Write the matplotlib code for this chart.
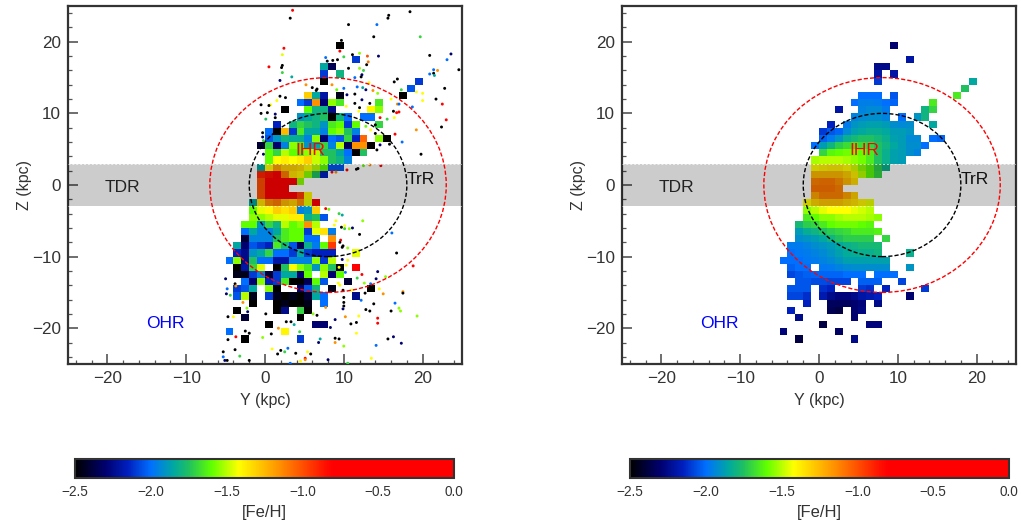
import numpy as np
import matplotlib
matplotlib.use('Agg')
import matplotlib.pyplot as plt
from matplotlib.colors import LinearSegmentedColormap, Normalize
from matplotlib.cm import ScalarMappable
from matplotlib.patches import Circle
from matplotlib.ticker import MultipleLocator

plt.rcParams['font.family'] = ['Liberation Sans', 'DejaVu Sans']

bin_edges = list(range(-25, 26))
feh_min, feh_max = -2.5, 0.0
cmap_stops = [(-2.5, '#000000'), (-2.3, '#000070'), (-2.15, '#0020c0'), (-2.0, '#0070ff'),
              (-1.85, '#00a8a0'), (-1.75, '#20c060'), (-1.6, '#60ff00'), (-1.42, '#ffff00'),
              (-1.15, '#ff9000'), (-0.85, '#ff1000'), (-0.8, '#ff0000'), (0.0, '#ff0000')]

# (Z bin lower edge, Y bin lower edge, [Fe/H] values going to larger Y)
left_rows = [
    (19, 9, [-2.5]), (17, 11, [-2.1]), (16, 7, [-1.85, -2.35]), (15, 7, [-2.1]), (15, 9, [-1.8]),
    (14, 7, [-2.5]), (14, 19, [-2.1]), (13, 18, [-2.05]),
    (12, 5, [-1.3, -1.85, -2.2]), (12, 9, [-2.45]), (12, 17, [-2.5]),
    (11, 4, [-2.0, -2.1, -1.15, -2.3, -1.55, -1.65]), (11, 14, [-1.65]),
    (10, 2, [-2.5]), (10, 5, [-1.6, -1.8, -1.8, -2.25]), (10, 13, [-1.4, -1.55]),
    (9, 4, [-1.9, -1.85, -1.8, -1.75, -2.5, -1.8, -2.0]), (9, 12, [-2.0, -2.0]),
    (8, 1, [-2.15]), (8, 3, [-1.8, -1.7, -1.75, -1.8, -1.9, -1.65, -1.6, -2.1, -1.6]), (8, 14, [-1.7]),
    (7, 0, [-2.0, -2.5, -1.25, -2.1, -1.65, -1.85, -1.85, -1.95, -1.6, -1.55, -1.75, -1.95]),
    (6, 0, [-2.05, -1.9, -1.8, -1.83, -1.83, -1.95, -1.55, -2.3, -2.0, -2.05, -1.7, -2.15, -1.05]),
    (6, 14, [-1.55, -2.5]),
    (5, -1, [-2.4, -1.7, -2.3, -1.95, -1.55, -1.65, -1.9, -1.85, -1.7, -1.95, -1.5, -2.35, -1.15, -1.15, -2.5]),
    (4, 0, [-1.6, -1.7, -1.5, -1.6, -1.65, -1.55, -1.5, -1.75, -1.75, -1.85, -2.0, -2.5, -1.75]),
    (3, 0, [-1.6, -1.42, -1.38, -1.42, -1.38, -1.3, -1.48, -1.55, -1.75, -1.8, -1.95]),
    (2, -1, [-1.85, -1.42, -1.2, -1.3, -1.3, -1.33, -1.42, -1.5, -1.6, -2.05, -2.05]),
    (1, -1, [-0.9, -0.85, -0.75, -1.1, -1.35, -1.4, -1.55, -1.75, -2.15]),
    (0, -1, [-1.0, -0.7, -0.7, -0.7, -0.7, -1.55]),
    (-1, -1, [-1.0, -0.7, -0.7, -0.7]),
    (-2, -1, [-1.0, -0.75, -0.75, -0.75, -0.75, -0.95, -1.4]),
    (-3, -2, [-1.85, -1.35, -1.15, -1.1, -1.25, -1.3, -1.15, -1.45, -0.7]),
    (-4, -2, [-1.6, -1.45, -1.4, -1.3, -1.35, -1.3, -1.95, -1.9, -1.3]),
    (-5, -2, [-1.55, -1.55, -1.5, -1.45, -1.45, -1.38, -1.38, -1.82, -1.75, -2.05]),
    (-6, -3, [-1.6, -1.6, -1.9, -1.7, -1.8, -1.5, -1.6, -1.55, -1.15, -1.5]),
    (-7, -3, [-2.0, -1.85, -1.95, -1.95, -1.85, -1.65, -1.6, -1.6, -2.1, -1.45, -1.35, -1.97]),
    (-8, -3, [-2.4, -1.95, -1.95, -1.95, -1.75, -1.65, -1.6, -1.6, -2.0, -2.0]), (-8, 8, [-1.15]),
    (-9, -4, [-1.85, -2.3, -2.05, -2.1, -2.15, -1.65, -1.78, -2.05, -2.35, -1.82, -1.97, -1.6, -0.95]),
    (-10, -4, [-2.15, -2.25, -1.9, -1.85, -1.7, -2.0, -2.0, -2.1, -1.85, -2.1, -2.15, -2.15, -2.15]), (-10, 11, [-1.45]),
    (-11, -5, [-2.0, -1.55, -2.25, -1.75, -2.0, -2.0, -2.2, -2.2, -1.95, -1.95, -1.95, -1.55, -2.1, -1.5]),
    (-12, -4, [-2.5, -2.2, -1.7, -1.45]), (-12, 1, [-2.5, -1.75, -1.42, -1.55, -1.65, -1.9, -1.55, -1.75, -2.5]), (-12, 11, [-0.7]),
    (-13, -4, [-2.45, -2.45, -2.1, -1.95, -2.4, -2.1, -1.85, -1.85, -2.3, -1.6]), (-13, 7, [-1.5, -2.3, -1.6]),
    (-14, -3, [-2.0, -2.3, -1.55, -2.15, -2.1, -1.65, -2.5, -2.5, -2.35, -1.6, -2.05]), (-14, 10, [-2.4]),
    (-15, -4, [-2.1, -2.05, -1.85]), (-15, 0, [-1.55, -2.5]), (-15, 4, [-2.3, -2.05, -1.8]), (-15, 8, [-2.45]), (-15, 13, [-2.5]),
    (-16, -4, [-2.05, -1.5, -2.45]), (-16, 0, [-2.1, -2.45, -2.5, -2.45, -2.5, -2.4, -1.85, -2.0]), (-16, 11, [-2.25]),
    (-17, -2, [-2.5]), (-17, 1, [-2.5, -2.45, -2.5, -2.5, -2.45]), (-17, 7, [-2.0]),
    (-18, -4, [-2.5]), (-18, 1, [-2.5, -2.25]), (-18, 4, [-1.7, -2.5]),
    (-19, -3, [-2.4]), (-19, 4, [-2.5]),
    (-20, 0, [-2.5]), (-20, 6, [-2.3, -2.3]),
    (-21, -5, [-2.0]), (-21, 2, [-1.4]),
    (-22, -3, [-2.5]), (-22, 4, [-2.1]),
]

right_rows = [
    (19, 9, [-2.3]), (17, 11, [-2.2]), (16, 7, [-2.25, -2.25]), (15, 7, [-2.2]), (15, 9, [-2.2]),
    (14, 7, [-2.1]), (14, 19, [-1.85]), (13, 18, [-1.75]),
    (12, 5, [-2.0, -2.0, -2.0]), (12, 9, [-2.05]), (12, 17, [-1.65]),
    (11, 4, [-2.0, -1.96, -1.96, -1.97, -2.0, -2.02]), (11, 14, [-1.65]),
    (10, 2, [-2.2]), (10, 5, [-1.95, -1.93, -1.93, -1.97]), (10, 13, [-1.8, -1.7]),
    (9, 4, [-1.95, -1.93, -1.92, -1.92, -1.95]), (9, 10, [-2.0]), (9, 12, [-1.9, -1.8]),
    (8, 1, [-2.15]), (8, 3, [-1.97, -1.9, -1.88, -1.87, -1.87, -1.88, -1.92, -1.93, -1.92]), (8, 14, [-1.85]),
    (7, 0, [-2.1, -2.05, -2.02, -1.93, -1.87, -1.85, -1.83, -1.83, -1.85, -1.88, -1.88, -1.9]),
    (6, 0, [-2.03, -1.97, -1.9, -1.82, -1.78, -1.75, -1.75, -1.78, -1.82, -1.87, -1.88, -1.93, -1.93]), (6, 14, [-2.0, -2.02]),
    (5, -1, [-2.0, -1.88, -1.8, -1.72, -1.68, -1.66, -1.68, -1.7, -1.75, -1.8, -1.85, -1.88, -1.92, -1.92, -2.0]),
    (4, 0, [-1.7, -1.62, -1.6, -1.58, -1.58, -1.6, -1.65, -1.75, -1.82, -1.87, -1.88, -1.92, -1.95]),
    (3, -1, [-1.52, -1.5, -1.5, -1.5, -1.52, -1.55, -1.58, -1.65, -1.75, -1.82, -1.87, -1.88]),
    (2, -1, [-1.42, -1.4, -1.38, -1.38, -1.42, -1.47, -1.55, -1.62, -1.72, -1.82]),
    (1, -1, [-1.25, -1.25, -1.25, -1.25, -1.3, -1.38, -1.5, -1.62, -1.7]),
    (0, -1, [-1.12, -1.1, -1.1, -1.15, -1.25, -1.33]),
    (-1, -1, [-1.08, -1.08, -1.08, -1.12]),
    (-2, -1, [-1.2, -1.12, -1.12, -1.12, -1.2, -1.3]),
    (-3, -2, [-1.42, -1.32, -1.28, -1.28, -1.28, -1.32, -1.35, -1.4, -1.45]),
    (-4, -2, [-1.55, -1.5, -1.45, -1.42, -1.42, -1.42, -1.45, -1.47, -1.5]),
    (-5, -2, [-1.65, -1.6, -1.55, -1.55, -1.52, -1.5, -1.5, -1.5, -1.52, -1.55]),
    (-6, -3, [-1.78, -1.72, -1.7, -1.65, -1.6, -1.58, -1.58, -1.58, -1.6, -1.62]),
    (-7, -3, [-1.88, -1.83, -1.8, -1.75, -1.72, -1.7, -1.68, -1.65, -1.65, -1.65, -1.63]),
    (-8, -3, [-1.92, -1.9, -1.88, -1.85, -1.8, -1.75, -1.72, -1.72, -1.72, -1.72]), (-8, 8, [-1.7]),
    (-9, -4, [-1.97, -1.97, -1.95, -1.92, -1.9, -1.88, -1.85, -1.82, -1.8, -1.78, -1.78, -1.78]),
    (-10, -4, [-2.0, -1.98, -1.97, -1.95, -1.93, -1.9, -1.87, -1.84, -1.83, -1.82, -1.82, -1.8]), (-10, 11, [-1.82]),
    (-11, -5, [-2.0, -2.0, -2.0, -1.98, -1.97, -1.95, -1.93, -1.9, -1.87, -1.87, -1.87, -1.87, -1.87, -1.87]),
    (-12, -4, [-2.03, -2.0, -2.0]), (-12, 0, [-1.98, -1.97, -1.95, -1.93, -1.92, -1.92, -1.92, -1.92, -1.92]), (-12, 11, [-1.9]),
    (-13, -4, [-2.08, -2.05, -2.03, -2.02, -2.02, -2.02, -2.02, -2.0, -2.0, -2.0]), (-13, 7, [-2.0, -2.0, -2.0]),
    (-14, -3, [-2.05, -2.05, -2.07, -2.07, -2.08, -2.08, -2.08]), (-14, 5, [-2.03, -2.03, -2.03]), (-14, 10, [-2.08]),
    (-15, -4, [-2.05, -2.05, -2.05]), (-15, 0, [-2.12, -2.15]), (-15, 5, [-2.1, -2.12]), (-15, 8, [-2.15]), (-15, 13, [-2.1]),
    (-16, -4, [-2.08, -2.08, -2.12]), (-16, 0, [-2.18, -2.25, -2.28, -2.28, -2.25, -2.2, -2.18, -2.15]), (-16, 11, [-2.3]),
    (-17, -2, [-2.15]), (-17, 1, [-2.33, -2.33, -2.33, -2.3, -2.28]), (-17, 7, [-2.25]),
    (-18, -4, [-2.15]), (-18, 1, [-2.35, -2.38]), (-18, 4, [-2.3, -2.27]),
    (-19, -3, [-2.25]), (-19, 4, [-2.3]),
    (-20, 0, [-2.38]), (-20, 6, [-2.28, -2.28]),
    (-21, -5, [-2.28]), (-21, 2, [-2.32]),
    (-22, -3, [-2.38]), (-22, 4, [-2.25]),
]

# individual stars in the left panel (black = -2.5 etc.)
star_y = [3.5, 3.2, 15.7, 15.6, 18.4, 10.6, 14.2, 13.8, 19.7, 9.7, 2.4, 2.2, 9.5, 11.1, 12.0, 10.0, 13.0, 14.4, 7.7, 9.2, 7.9, 8.6, 12.9, 13.1,
          20.9, 23.6, 23.1, 24.6, 0.5, 2.2, 2.1, 2.2, 3.4, 1.9, 10.6, 12.0, 12.5, 12.3, 12.2, 11.4, 21.4, 21.4, 20.9, 21.5, 21.9, 16.4, 16.8,
          13.2, 5.2, 8.5, 11.7, 12.4, 12.8, 13.7, 14.3, 6.0, 6.6, 6.5, 9.1, 10.0, 11.4, 10.4, 17.3, 20.0, 19.2, 22.8, 1.9, 2.6, 1.5, 16.0, 20.0,
          21.7, 0.7, 0.5, -0.5, 12.3, 11.4, 13.3, 10.3, 16.8, 17.0, 18.7, 22.5, 12.0, -0.5, 0.3, 1.3, 11.9, 16.3, 16.7, 17.0, 0.1, 1.3, 14.6, 15.5,
          16.4, 23.0, 14.0, 13.4, 12.8, 19.2, 22.4, -0.3, -0.3, -0.2, 16.5, 14.0, 17.4, 15.8, 14.6, 14.2, -0.2, 19.8, 13.3, 12.5, 11.8, 11.6, 14.7,
          8.5, 9.0, 10.4,
          7.7, 8.1, 9.4, 9.8, 9.0, 12.4, 8.8, 9.7, 10.1, 10.1, 10.7, 11.1, 12.0, 16.1, 9.6, 9.5, 9.9, 9.8, 10.5, 16.7, 9.8, 18.8, 10.5, 10.3, 9.4, 10.2,
          12.3, 11.7, 14.3, 15.3, 14.1, -5.0, 12.6, 13.4, 9.3, 9.5, -3.8, -3.7, -4.8, 14.5, 9.9, 11.0, 17.5, 17.5, 15.0, 12.7, -4.9, -4.4, 10.0, 10.0,
          -2.8, 12.2, 16.5, 13.8, 10.0, 9.9, 12.8, 13.3, 16.0, 17.0, 17.2, -2.3, -2.2, 0.1, 6.1, 7.7, 6.6, -4.7, -4.0, 11.9, 10.2, 19.3, 8.9, 14.3, 14.3,
          2.7, 3.3, 3.7, 10.9, 11.6, 1.7, -2.5, -2.0, 4.4, 8.3, 11.6, 0.8, 16.3, 15.6, 17.3, -3.7, -4.7, -0.3, 7.0, 6.8, 8.9, 9.4, 8.9, 10.0, 14.1, -3.8,
          0.9, 2.0, 2.9, 2.5, 5.4, 5.8, 3.9, 1.6, -5.3, -5.3, -5.1, -4.8, -3.2, -2.0, 4.5, 3.2, 5.1, 5.1, 8.0, 10.5, 13.5]
star_z = [24.4, 23.3, 23.7, 23.3, 24.2, 22.4, 22.4, 20.7, 20.7, 20.2, 19.1, 18.2, 18.7, 18.2, 18.4, 17.9, 18.0, 18.0, 17.8, 17.5, 17.3, 17.4, 16.8, 17.2,
          18.1, 18.3, 17.5, 16.1, 16.5, 16.7, 16.4, 15.7, 15.1, 14.6, 16.3, 16.3, 16.0, 15.4, 15.1, 15.0, 16.1, 15.6, 15.5, 15.3, 16.0, 14.4, 14.8,
          14.3, 14.0, 14.0, 13.7, 13.6, 13.3, 13.2, 12.8, 13.6, 13.4, 13.2, 13.3, 13.5, 12.7, 12.6, 13.3, 12.8, 13.0, 13.5, 12.4, 12.2, 11.8, 12.0, 11.8,
          12.0, 11.2, 11.1, 11.2, 11.9, 11.4, 11.4, 11.0, 11.3, 11.3, 10.9, 11.3, 10.8, 10.0, 10.1, 9.9, 10.3, 10.3, 10.1, 10.2, 9.2, 9.4, 9.4, 9.2,
          9.4, 9.1, 8.4, 7.7, 8.2, 7.7, 8.1, 7.3, 6.7, 6.2, 7.1, 7.2, 6.0, 5.7, 5.6, 4.9, 4.3, 4.3, 2.8, 2.7, 2.3, 2.2, 2.7,
          1.8, 1.8, 2.1,
          -3.3, -3.4, -4.0, -4.2, -5.0, -5.0, -5.6, -5.9, -5.7, -6.1, -6.1, -6.0, -6.9, -6.7, -7.7, -8.0, -8.5, -8.7, -8.8, -9.5, -10.4, -11.3, -10.5, -11.2, -11.5, -12.2,
          -12.5, -13.0, -12.1, -12.8, -13.1, -13.1, -13.7, -13.8, -13.7, -14.0, -13.8, -14.1, -14.5, -14.5, -14.7, -14.7, -14.9, -15.1, -15.2, -15.1, -15.2, -15.4, -15.7, -16.4,
          -16.4, -16.1, -16.5, -16.6, -16.9, -17.3, -17.4, -17.6, -17.6, -17.2, -17.6, -17.2, -17.7, -18.0, -18.0, -17.1, -18.2, -18.4, -18.4, -18.3, -18.4, -18.3, -18.8, -18.6, -19.3,
          -19.1, -19.1, -19.5, -19.4, -19.2, -20.0, -20.4, -20.7, -20.5, -19.9, -20.7, -20.8, -21.2, -21.5, -22.1, -21.2, -21.6, -21.3, -21.5, -22.0, -21.4, -21.5, -22.0, -22.5, -22.4, -23.0,
          -22.9, -23.1, -22.8, -23.3, -23.3, -23.6, -23.5, -23.6, -23.3, -24.0, -24.5, -24.5, -23.9, -24.5, -24.6, -24.9, -24.2, -24.4, -24.4, -24.9, -24.2]
star_feh = [-0.7, -2.5, -2.5, -2.5, -2.5, -2.5, -2.0, -2.5, -1.7, -2.5, -0.7, -1.45, -0.7, -2.5, -1.55, -1.7, -1.0, -2.3, -2.0, -2.5, -2.5, -2.5, -2.5, -1.1,
            -2.5, -2.3, -2.0, -2.5, -0.7, -2.5, -2.5, -1.7, -1.85, -2.3, -2.5, -1.55, -1.7, -2.3, -2.5, -2.0, -2.0, -2.5, -2.0, -1.85, -1.15, -2.5, -2.5,
            -1.42, -1.15, -1.15, -2.0, -1.85, -2.3, -1.15, -1.55, -2.5, -2.5, -2.5, -1.6, -2.0, -2.5, -2.3, -1.7, -1.42, -1.42, -2.5, -2.5, -2.5, -1.42, -1.42, -1.42,
            -2.5, -1.42, -2.5, -2.5, -2.3, -2.5, -2.5, -1.42, -1.15, -2.0, -2.0, -0.7, -2.5, -2.5, -2.5, -2.3, -1.42, -2.5, -0.7, -0.7, -1.75, -2.5, -0.7, -1.7,
            -1.42, -0.7, -2.5, -1.42, -1.6, -1.15, -2.5, -2.5, -2.3, -1.7, -0.7, -2.5, -2.0, -2.5, -2.3, -2.5, -2.3, -2.5, -1.15, -1.6, -2.5, -2.5, -0.7,
            -0.7, -1.15, -0.7,
            -0.7, -1.6, -1.7, -1.85, -1.42, -1.55, -1.42, -2.5, -1.42, -1.7, -1.55, -2.3, -2.5, -2.0, -0.7, -2.5, -2.5, -2.5, -1.55, -2.5, -2.3, -0.7, -1.42, -1.42, -1.42, -2.0,
            -0.7, -1.7, -2.3, -1.55, -2.3, -2.3, -1.55, -2.0, -1.42, -1.42, -2.5, -1.15, -2.0, -1.42, -2.5, -1.42, -1.15, -2.5, -1.15, -2.5, -2.3, -1.7, -2.5, -2.5,
            -1.15, -2.0, -2.0, -2.5, -2.5, -2.3, -2.5, -2.5, -2.5, -1.55, -1.55, -1.55, -2.3, -2.5, -1.55, -1.15, -2.5, -2.5, -1.42, -1.42, -1.15, -1.55, -2.3, -0.7, -0.7,
            -2.5, -2.5, -1.85, -2.5, -2.5, -1.15, -2.5, -2.5, -1.7, -2.3, -1.42, -2.5, -2.3, -2.5, -2.3, -0.7, -2.5, -1.55, -1.85, -2.3, -2.5, -2.5, -1.15, -1.55, -2.0, -2.5,
            -1.42, -2.5, -2.0, -1.7, -1.42, -2.5, -2.5, -2.5, -2.5, -2.0, -2.3, -2.5, -1.7, -2.5, -1.42, -2.0, -0.7, -1.15, -2.3, -1.7, -1.42]

ax_ticks = [-20, -10, 0, 10, 20]
cbar_ticks = [-2.5, -2.0, -1.5, -1.0, -0.5, 0.0]
labels = [('TDR', -18.1, -0.4, '#222222'), ('TrR', 19.8, 0.7, '#111111'),
          ('IHR', 5.8, 4.8, 'red'), ('OHR', -12.7, -19.4, 'blue')]

W, H = 1021, 523
cmap = LinearSegmentedColormap.from_list(
    'feh', [((v - feh_min) / (feh_max - feh_min), c) for v, c in cmap_stops], N=512)
norm = Normalize(feh_min, feh_max)


def to_grid(rows):
    grid = np.full((len(bin_edges) - 1, len(bin_edges) - 1), np.nan)
    for z, y0, vals in rows:
        for i, v in enumerate(vals):
            grid[z - bin_edges[0], y0 + i - bin_edges[0]] = v
    return grid


fig = plt.figure(figsize=(W / 100, H / 100), dpi=100)
dark = '#333333'


def panel(x0, rows, stars):
    ax = fig.add_axes([x0 / W, 1 - 364 / H, 394 / W, 358 / H])
    ax.pcolormesh(bin_edges, bin_edges, np.ma.masked_invalid(to_grid(rows)),
                  cmap=cmap, norm=norm, zorder=2, linewidth=0, rasterized=True)
    if stars:
        ax.scatter(star_y, star_z, c=star_feh, cmap=cmap, norm=norm, s=4.5, linewidths=0, zorder=3)
    ax.axhspan(-3, 3, color='black', alpha=0.2, lw=0, zorder=4)
    for lim in (-3, 3):
        ax.axhline(lim, color='white', lw=0.7, ls=(0, (2, 2)), alpha=0.7, zorder=4)
    ax.add_patch(Circle((8, 0), 15, fill=False, ec='red', lw=1, ls=(0, (3, 1.5)), zorder=5))
    ax.add_patch(Circle((8, 0), 10, fill=False, ec='black', lw=1, ls=(0, (3, 1.5)), zorder=5))
    for t, y, z, c in labels:
        ax.text(y, z, t, color=c, fontsize=12.5, ha='center', va='center', zorder=6)
    ax.set_xlim(-25, 25)
    ax.set_ylim(-25, 25)
    ax.set_xticks(ax_ticks)
    ax.set_yticks(ax_ticks)
    ax.xaxis.set_minor_locator(MultipleLocator(2))
    ax.yaxis.set_minor_locator(MultipleLocator(2))
    ax.tick_params(which='major', direction='in', length=7, width=1.2, color='#555555',
                   labelsize=12.3, labelcolor=dark, pad=5)
    ax.tick_params(which='minor', direction='in', length=3, width=0.9, color='#555555')
    ax.set_xlabel('Y (kpc)', fontsize=11.5, color=dark, labelpad=5)
    ax.set_ylabel('Z (kpc)', fontsize=11.5, color=dark, labelpad=0)
    for s in ax.spines.values():
        s.set_linewidth(1.6)
        s.set_color(dark)
    return ax


panel(68, left_rows, True)
panel(622, right_rows, False)

for x0 in (75, 630):
    cax = fig.add_axes([x0 / W, 1 - 478 / H, 379 / W, 19 / H])
    cb = fig.colorbar(ScalarMappable(norm=norm, cmap=cmap), cax=cax, orientation='horizontal')
    cb.set_ticks(cbar_ticks)
    cb.set_ticklabels([f'{v:.1f}'.replace('-', '\u2212') for v in cbar_ticks])
    cb.ax.tick_params(length=0, labelsize=9.8, labelcolor=dark, pad=5)
    cb.set_label('[Fe/H]', fontsize=11.9, color=dark, labelpad=4)
    cb.outline.set_linewidth(1.5)
    cb.outline.set_edgecolor(dark)

fig.savefig('out.png', dpi=100)
